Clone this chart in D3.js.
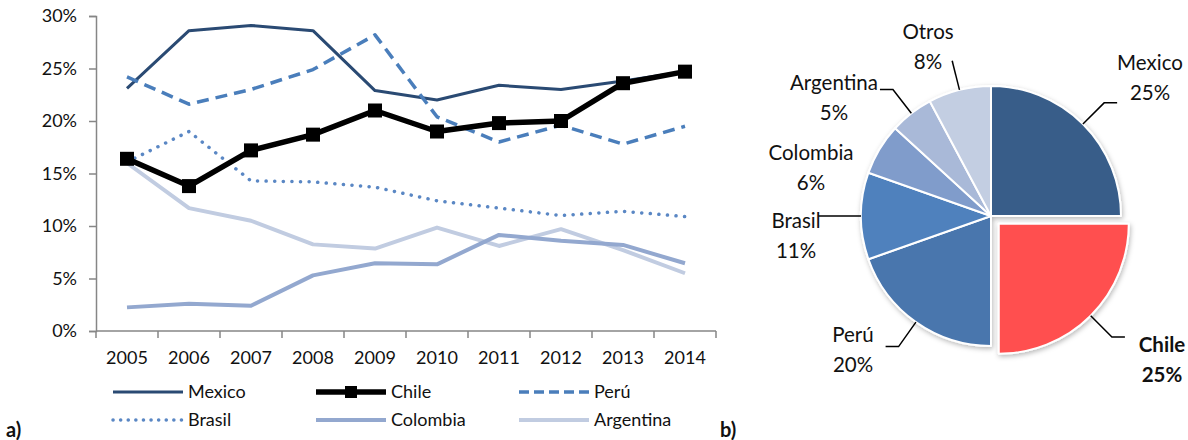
<!DOCTYPE html>
<html>
<head>
<meta charset="utf-8">
<script src="https://cdn.jsdelivr.net/npm/d3@7"></script>
<style>
  body { margin: 0; background: #fff; }
  svg text { font-family: Lato, "Noto Sans", sans-serif; fill: #111; }
</style>
</head>
<body>
<script>
// ---- data ----
var years = ["2005","2006","2007","2008","2009","2010","2011","2012","2013","2014"];
var yTicks = [0, 0.05, 0.10, 0.15, 0.20, 0.25, 0.30];

var mexico    = [23.1, 28.6, 29.1, 28.6, 22.9, 22.0, 23.4, 23.0, 23.8, 24.7];
var chile     = [16.4, 13.8, 17.2, 18.7, 21.0, 19.0, 19.8, 20.0, 23.6, 24.7];
var peru      = [24.2, 21.6, 23.0, 24.9, 28.2, 20.4, 18.0, 19.6, 17.8, 19.5];
var brasil    = [16.1, 19.0, 14.3, 14.2, 13.7, 12.4, 11.7, 11.0, 11.4, 10.9];
var colombia  = [2.25, 2.6, 2.4, 5.3, 6.45, 6.35, 9.15, 8.6, 8.2, 6.45];
var argentina = [16.0, 11.7, 10.5, 8.25, 7.85, 9.85, 8.1, 9.7, 7.7, 5.5];

var pieNames  = ["Mexico", "Chile", "Perú", "Brasil", "Colombia", "Argentina", "Otros"];
var pieValues = [25.0, 25.0, 19.6, 10.8, 6.4, 5.4, 7.8];

// ---- styles ----
var series = [
  {name: "Mexico",    values: mexico,    color: "#2a4a73", width: 3,   dash: null},
  {name: "Chile",     values: chile,     color: "#000000", width: 5.5, dash: null, marker: true},
  {name: "Perú",      values: peru,      color: "#4a7ebb", width: 3.5, dash: "12,7"},
  {name: "Brasil",    values: brasil,    color: "#5a87c4", width: 3.5, dash: "0.1,8.5", cap: "round"},
  {name: "Colombia",  values: colombia,  color: "#93a8cf", width: 4,   dash: null},
  {name: "Argentina", values: argentina, color: "#c1cce1", width: 4,   dash: null}
];
var pieColors = ["#375d89", "#ff5050", "#4a76ad", "#4f81bd", "#809ccb", "#a9b9d8", "#c3cee2"];
// label block offsets from pie centre (layout)
var labelOffset = [[159,-138],[171,144],[-138,134],[-195,20],[-180,-48],[-157,-118],[-63,-169]];
var hasLeader   = [true, true, true, true, false, true, true];

var svg = d3.select("body").append("svg")
  .attr("width", 1188)
  .attr("height", 440);

// ---- line chart ----
var x = d3.scaleBand().domain(years).range([96, 716]);
var y = d3.scaleLinear().domain([0, 0.30]).range([331, 16]);

var axisColor = "#868686";

var yAxis = svg.append("g")
  .attr("transform", "translate(96,0)")
  .call(d3.axisLeft(y).tickValues(yTicks).tickFormat(d3.format(".0%")).tickSize(7).tickPadding(12));
yAxis.select(".domain").attr("stroke", axisColor).attr("stroke-width", 1.5);
yAxis.selectAll(".tick line").attr("stroke", axisColor).attr("stroke-width", 1.5);
yAxis.selectAll("text").style("font-size", "18px").attr("fill", "#111").style("font-family", "Lato");

var xAxis = svg.append("g").attr("transform", "translate(0,331)");
xAxis.append("line").attr("x1", 96).attr("x2", 716).attr("stroke", axisColor).attr("stroke-width", 1.5);
xAxis.selectAll(".bt")
  .data(years.concat(["end"]))
  .enter().append("line")
  .attr("x1", function(d, i) { return i < years.length ? x(d) : x(years[years.length - 1]) + x.bandwidth(); })
  .attr("x2", function(d, i) { return i < years.length ? x(d) : x(years[years.length - 1]) + x.bandwidth(); })
  .attr("y1", 0).attr("y2", 7)
  .attr("stroke", axisColor).attr("stroke-width", 1.5);
xAxis.selectAll(".yl")
  .data(years)
  .enter().append("text")
  .attr("x", function(d) { return x(d) + x.bandwidth() / 2; })
  .attr("y", 33)
  .attr("text-anchor", "middle")
  .style("font-size", "18px")
  .text(function(d) { return d; });

var line = d3.line()
  .x(function(d, i) { return x(years[i]) + x.bandwidth() / 2; })
  .y(function(d) { return y(d / 100); });

// draw light series first, Chile last
var order = [5, 4, 3, 0, 2, 1];
order.forEach(function(k) {
  var s = series[k];
  svg.append("path")
    .datum(s.values)
    .attr("d", line)
    .attr("fill", "none")
    .attr("stroke", s.color)
    .attr("stroke-width", s.width)
    .attr("stroke-dasharray", s.dash)
    .attr("stroke-linecap", s.cap || "butt")
    .attr("stroke-linejoin", "round");
  if (s.marker) {
    svg.append("g").selectAll("rect")
      .data(s.values)
      .enter().append("rect")
      .attr("x", function(d, i) { return x(years[i]) + x.bandwidth() / 2 - 7; })
      .attr("y", function(d) { return y(d / 100) - 7; })
      .attr("width", 14).attr("height", 14)
      .attr("fill", "#000");
  }
});

// legend
var legend = svg.append("g");
series.forEach(function(s, i) {
  var col = i % 3, row = Math.floor(i / 3);
  var lx = 113 + col * 203, ly = 392 + row * 28;
  legend.append("line")
    .attr("x1", lx).attr("x2", lx + 70)
    .attr("y1", ly).attr("y2", ly)
    .attr("stroke", s.color)
    .attr("stroke-width", s.width)
    .attr("stroke-dasharray", s.dash ? (s.cap ? "0.1,7.5" : "10,5") : null)
    .attr("stroke-linecap", s.cap || "butt");
  if (s.marker) {
    legend.append("rect").attr("x", lx + 29).attr("y", ly - 6).attr("width", 12).attr("height", 12).attr("fill", "#000");
  }
  legend.append("text")
    .attr("x", lx + 75).attr("y", ly)
    .attr("dy", "0.35em")
    .style("font-size", "18px")
    .text(s.name);
});

svg.append("text").attr("x", 6).attr("y", 437).style("font-size", "20px").style("font-weight", "bold").text("a)");
svg.append("text").attr("x", 720).attr("y", 437).style("font-size", "20px").style("font-weight", "bold").text("b)");

// ---- pie ----
var cx = 991, cy = 216, r = 130;
var defs = svg.append("defs");
var f = defs.append("filter").attr("id", "shadow").attr("x", "-20%").attr("y", "-20%").attr("width", "140%").attr("height", "140%");
f.append("feDropShadow").attr("dx", 1).attr("dy", 2).attr("stdDeviation", 2.5).attr("flood-color", "#000").attr("flood-opacity", 0.28);

var pie = d3.pie().sort(null).value(function(d) { return d; });
var arcs = pie(pieValues);
var arc = d3.arc().innerRadius(0).outerRadius(r);

var pg = svg.append("g").attr("transform", "translate(" + cx + "," + cy + ")");
var explode = 11;

function shift(d, i) {
  if (pieNames[i] !== "Chile") return [0, 0];
  var a = (d.startAngle + d.endAngle) / 2;
  return [Math.sin(a) * explode, -Math.cos(a) * explode];
}

pg.append("g").attr("filter", "url(#shadow)")
  .selectAll("path")
  .data(arcs)
  .enter().append("path")
  .attr("d", arc)
  .attr("transform", function(d, i) { var s = shift(d, i); return "translate(" + s[0] + "," + s[1] + ")"; })
  .attr("fill", function(d, i) { return pieColors[i]; })
  .attr("stroke", "#fff")
  .attr("stroke-width", 2)
  .attr("stroke-linejoin", "round");

// leader lines + labels
arcs.forEach(function(d, i) {
  var a = (d.startAngle + d.endAngle) / 2;
  var s = shift(d, i);
  var off = labelOffset[i];
  var right = off[0] > 0;
  if (hasLeader[i]) {
    var p0 = [Math.sin(a) * r + s[0], -Math.cos(a) * r + s[1]];
    var p1 = [Math.sin(a) * 160 + s[0], -Math.cos(a) * 160 + s[1]];
    var pts = [p0, p1];
    if (pieNames[i] !== "Otros") pts.push([p1[0] + (right ? 13 : -13), p1[1]]);
    pg.append("path")
      .attr("d", d3.line()(pts))
      .attr("fill", "none")
      .attr("stroke", "#000")
      .attr("stroke-width", 1.5);
  }
  var bold = pieNames[i] === "Chile";
  var t = pg.append("text")
    .attr("text-anchor", "middle")
    .style("font-size", "20.5px")
    .style("font-weight", bold ? "bold" : "normal");
  t.append("tspan").attr("x", off[0]).attr("y", off[1] - 8).text(pieNames[i]);
  t.append("tspan").attr("x", off[0]).attr("y", off[1] + 22).text(Math.round(d.data) + "%");
});
</script>
</body>
</html>
